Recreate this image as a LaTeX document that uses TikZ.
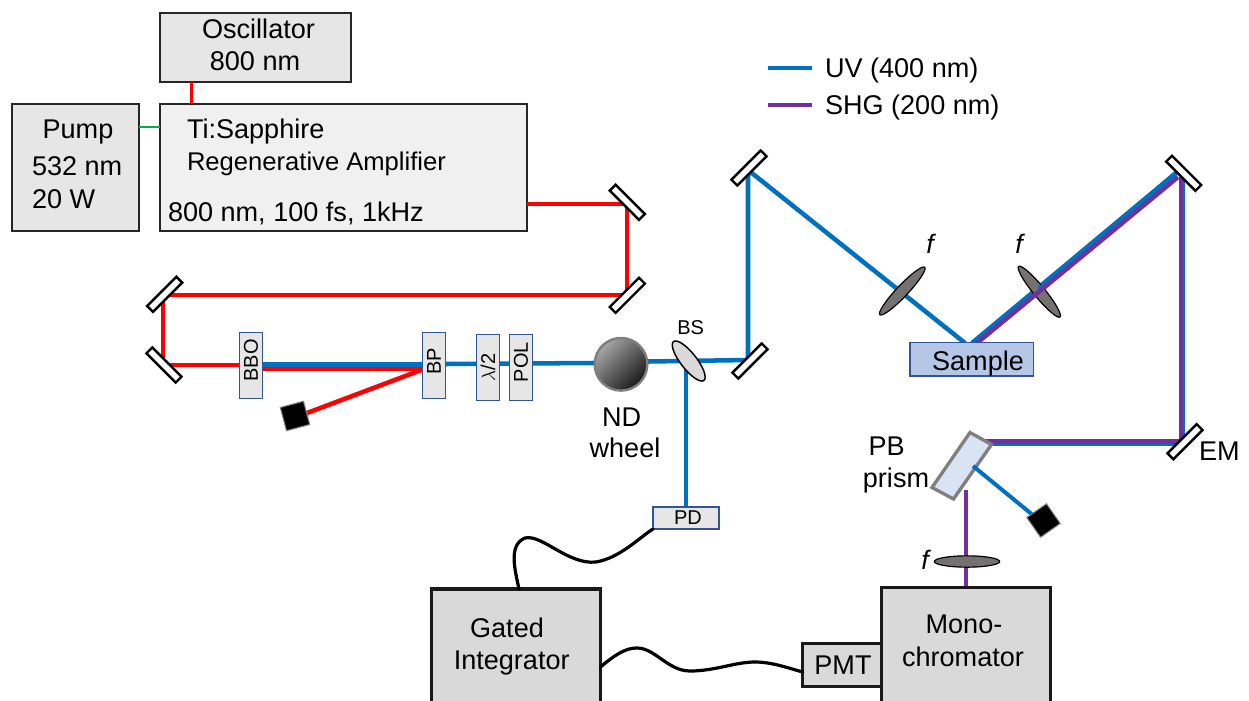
\documentclass[tikz,border=0pt]{standalone}
\usepackage{fontspec}
\setmainfont{Liberation Sans}
\usetikzlibrary{calc,shapes.geometric}
\definecolor{beamred}{HTML}{FF0000}
\definecolor{beamblue}{HTML}{0070C0}
\definecolor{beampurple}{HTML}{7030A0}
\definecolor{beamgreen}{HTML}{00B050}
\definecolor{optedge}{HTML}{2F5597}
\definecolor{optfill}{HTML}{E7E6E6}
\definecolor{lensfill}{HTML}{767171}
\definecolor{edgegrey}{HTML}{7F7F7F}
\definecolor{boxdark}{HTML}{262626}
\definecolor{samplefill}{HTML}{B4C7E7}
\definecolor{prismfill}{HTML}{DAE3F3}
\tikzset{
 x=0.75pt,y=-0.75pt,
 every node/.style={inner sep=0pt,outer sep=0pt},
 big/.style={font=\fontsize{20.3}{24}\selectfont},
 small/.style={font=\fontsize{15}{18}\selectfont},
 txt/.style={big,anchor=base},
 txtl/.style={big,anchor=base west},
 beam/.style={line width=3.4pt,line cap=butt,line join=miter},
 redbeam/.style={beam,draw=beamred},
 bluebeam/.style={beam,draw=beamblue},
 purplebeam/.style={beam,draw=beampurple},
 mirror/.style={draw=black,fill=white,line width=1.8pt,minimum width=31pt,minimum height=6.2pt},
 labbox/.style={draw=boxdark,line width=1.5pt,fill=#1},
 labbox/.default={optfill},
 heavybox/.style={draw=black!90,line width=2.6pt,fill=black!15},
 optic/.style={draw=optedge,line width=1pt,fill=optfill,small,minimum width=49.5pt,minimum height=17pt,rotate=90},
 lens/.style={ellipse,draw=black,line width=0.9pt,fill=lensfill,minimum width=49pt,minimum height=8.5pt},
 dump/.style={draw=edgegrey,line width=0.8pt,fill=black,minimum size=18pt},
 wire/.style={draw=black,line width=2.4pt,line cap=round},
}
\begin{document}
\begin{tikzpicture}
\useasboundingbox (0,0) rectangle (1249,700);
\clip (0,0) rectangle (1249,700);

% boxes
\node[labbox,minimum width=143pt,minimum height=51.75pt] (osc) at (255.5,47.5) {};
\node[txt] (osca) at (258.5,38) {Oscillator};
\node[txt] (oscb) at (255,70) {800 nm};
\node[labbox=black!6,minimum width=275.25pt,minimum height=95.25pt] (amp) at (343.5,167.5) {};
\node[labbox,minimum width=95.25pt,minimum height=95.25pt] (pump) at (75.5,167.5) {};
\node[txt] (pumpa) at (78,138) {Pump};
\node[txtl] (pumpb) at (32,175) {532 nm};
\node[txtl] (pumpc) at (32,208) {20 W};
\node[txtl] (ampa) at (187,138) {Ti:Sapphire};
\node[txtl,font=\fontsize{19.2}{24}\selectfont] (ampb) at (187,170) {Regenerative Amplifier};
\node[txtl] (ampc) at (168,221) {800 nm, 100 fs, 1kHz};

\coordinate (oscout) at (191.5,82);
\coordinate (ampin) at (191.5,104);
\coordinate (pumpout) at (139,127);
\coordinate (ampside) at (160,127);
\draw[beam,draw=beamred,line width=2.1pt] (oscout) -- (ampin);
\draw[beam,draw=beamgreen,line width=2pt] (pumpout) -- (ampside);

% beam corner points (mirrors are drawn over them)
\coordinate (r0) at (527,204);
\coordinate (r1) at (627,204);
\coordinate (r2) at (627,295);
\coordinate (r3) at (163,295);
\coordinate (r4) at (163,365);
\coordinate (r5) at (242,365);
\coordinate (r6) at (262,369);
\coordinate (r7) at (424,369);
\coordinate (r8) at (307,413);
\draw[redbeam] (r0) -- (r1) -- (r2) -- (r3) -- (r4) -- (r5);
\draw[redbeam] (r6) -- (r7);
\draw[redbeam] (r8) -- (r7);

% UV beam
\coordinate (b0) at (262,364.5);
\coordinate (b1) at (424,364.5);
\coordinate (b2) at (594,363);
\coordinate (b3) at (445,364);
\coordinate (b4) at (648,361.5);
\coordinate (b5) at (748,360);
\coordinate (b6) at (748,170);
\coordinate (b7) at (965,343);
\coordinate (b8) at (686,365);
\coordinate (pdtop) at (686,507);
\draw[bluebeam] (b0) -- (b1);
\draw[bluebeam] (b3) -- (b2);
\draw[bluebeam] (b4) -- (b5) -- (b6) -- (b7);
\draw[bluebeam] (b8) -- (pdtop);

% first lens hides the beam, second lens lies under the SHG beam
\node[lens,rotate=46.6] (f1) at (902.3,291) {};
\draw[bluebeam] (972,343) -- (1176,173);
\node[lens,rotate=-50.7] (f2) at (1039.3,291.7) {};
\coordinate (s0) at (977,343);
\coordinate (s1) at (1178,177);
\coordinate (s2) at (1181.2,177);
\coordinate (s3) at (1181.2,441.5);
\coordinate (s4) at (985,441.5);
\draw[bluebeam] (1039,289) -- (1176,173);
\draw[purplebeam] (s0) -- (s1);
\draw[bluebeam] (1182.5,177) -- (1182.5,444) -- (985,444);
\draw[purplebeam] (s2) -- (s3) -- (s4);

% prism and its outputs
\coordinate (pv0) at (966,490);
\coordinate (pv1) at (966,587);
\draw[purplebeam] (pv0) -- (pv1);
\node[lens,rotate=0] (f3) at (967,561.5) {};
\draw[draw=edgegrey,line width=2.5pt,fill=prismfill] (970,432.5) -- (991.5,444.5) -- (953.5,499) -- (932,487.5) -- cycle;
\coordinate (d0) at (973,466);
\coordinate (d1) at (1034,516);
\draw[bluebeam,line width=3pt] (d0) -- (d1);
\node[dump,rotate=35] (dumpb) at (1043.5,520.5) {};
\node[dump,rotate=15] (dumpr) at (295,416) {};

% mirrors
\node[mirror,rotate=-45] (m1) at (627.3,202.3) {};
\node[mirror,rotate=45]  (m2) at (627.3,295.3) {};
\node[mirror,rotate=45]  (m3) at (164.7,294.3) {};
\node[mirror,rotate=-45] (m4) at (164,365) {};
\node[mirror,rotate=45]  (m5) at (750,361) {};
\node[mirror,rotate=45]  (m6) at (749,168) {};
\node[mirror,rotate=-45] (m7) at (1183.7,173.3) {};
\node[mirror,rotate=45]  (em) at (1185,441.7) {};

% optics
\node[optic] (bbo) at (251,365.5) {\hspace*{7.5pt}BBO};
\node[optic] (bp) at (434,365.5) {\hspace*{6pt}BP};
\node[optic] (hwp) at (488,367.3) {$\lambda$/2};
\node[optic] (pol) at (521,367.3) {\hspace*{7.5pt}POL};
\node[draw=optedge,line width=1pt,fill=optfill,small,minimum width=49.5pt,minimum height=16.5pt] (pd) at (686,518) {\hspace*{3pt}\raisebox{-2.25pt}{PD}};
\node[draw=edgegrey,line width=1.8pt,circle,minimum size=39.5pt,top color=black!35,bottom color=black!90,shading angle=45] (nd) at (621,364.3) {};
\node[ellipse,draw=black,line width=1.1pt,fill=black!15,minimum width=37pt,minimum height=12pt,rotate=-52] (bs) at (688.7,361) {};
\node[draw=optedge,line width=1pt,fill=samplefill,minimum width=92.5pt,minimum height=25pt] (sample) at (971.8,359.3) {};

% lab boxes
\node[heavybox,minimum width=126.5pt,minimum height=90pt] (gi) at (516,649) {};
\node[heavybox,minimum width=127pt,minimum height=90pt] (mono) at (966,647.6) {};
\node[heavybox,big,minimum width=59pt,minimum height=32pt] (pmt) at (842,665) {\hspace*{1.5pt}PMT};

% wires
\draw[wire] (gi.north -| 519,0) .. controls (515,570) and (508,545) .. (525,538) .. controls (542,534) and (568,565) .. (596,562) .. controls (620,558) and (640,537) .. (pd.south west);
\draw[wire] (gi.east |- 0,667) .. controls (615,655) and (625,648) .. (637,648) .. controls (655,648) and (668,671) .. (690,671) .. controls (715,671) and (735,662) .. (755,662) .. controls (772,662) and (788,668) .. (pmt.west |- 0,672);

% labels
\node[txt] (labnd) at (621.7,426) {ND};
\node[txt] (labwheel) at (625,457) {wheel};
\node[small,anchor=base] (labbs) at (690.7,334) {BS};
\node[txt] (labsample) at (978,370) {Sample};
\node[txt] (labgated) at (507,637) {Gated};
\node[txt] (labint) at (511.7,669) {Integrator};
\node[txt] (labmono) at (964,633) {Mono-};
\node[txt] (labchrom) at (963,666) {chromator};
\node[txt] (labpb) at (886.7,455) {PB};
\node[txt] (labprism) at (896,487) {prism};
\node[txtl] (labem) at (1199,460) {EM};
\node[txt,font=\fontsize{20}{24}\selectfont\itshape] (labf1) at (930,253) {f};
\node[txt,font=\fontsize{20}{24}\selectfont\itshape] (labf2) at (1019,253) {f};
\node[txt,font=\fontsize{20}{24}\selectfont\itshape] (labf3) at (925,569) {f};

% legend
\coordinate (l0) at (768,68);
\coordinate (l1) at (812,68);
\coordinate (l2) at (768,105);
\coordinate (l3) at (812,105);
\draw[bluebeam] (l0) -- (l1);
\draw[purplebeam] (l2) -- (l3);
\node[txtl] (leg1) at (825,77) {UV (400 nm)};
\node[txtl] (leg2) at (825,114) {SHG (200 nm)};
\end{tikzpicture}
\end{document}
